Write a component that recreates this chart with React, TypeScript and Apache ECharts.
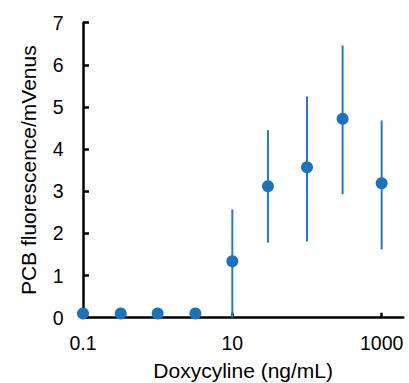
import React, { useEffect, useRef } from "react";
import * as echarts from "echarts";

const concentrations = [0.1, 0.32, 1, 3.2, 10, 30, 100, 300, 1000];
const means = [0.1, 0.1, 0.1, 0.1, 1.34, 3.12, 3.57, 4.72, 3.19];
const errLower = [null, null, null, null, 0, 1.78, 1.81, 2.93, 1.62];
const errUpper = [null, null, null, null, 2.57, 4.45, 5.25, 6.46, 4.68];
const xTickValues = [0.1, 10, 1000];

const FONT = '"Liberation Sans", Arial, sans-serif';
const BLUE = "#1b74bb";
const BAR_BLUE = "#2679c0";

export default function App() {
  const ref = useRef<HTMLDivElement>(null);
  useEffect(() => {
    if (!ref.current) return;
    const chart = echarts.init(ref.current, undefined, { renderer: "svg" });
    const points = concentrations.map((c, i) => [c, means[i]]);
    const bars = concentrations
      .map((c, i) => [c, errLower[i], errUpper[i]])
      .filter((d) => d[1] != null && d[2] != null);
    chart.setOption({
      animation: false,
      grid: {
        left: 83,
        right: 5.7,
        top: 22.7,
        bottom: 65.3,
        containLabel: false,
        outerBoundsMode: "none",
      },
      xAxis: {
        type: "log",
        logBase: 10,
        min: 0.1,
        max: 1950,
        name: "Doxycyline (ng/mL)",
        nameLocation: "middle",
        nameGap: 42,
        nameTextStyle: { fontFamily: FONT, fontSize: 21, color: "#000" },
        axisLine: { show: true, lineStyle: { color: "#000", width: 2.5 } },
        axisTick: {
          show: true,
          inside: true,
          length: 5,
          customValues: xTickValues,
          lineStyle: { color: "#000", width: 2.5 },
        },
        axisLabel: {
          customValues: xTickValues,
          margin: 15.5,
          fontFamily: FONT,
          fontSize: 19.5,
          color: "#000",
          formatter: (v: number) => (v >= 1 ? String(Math.round(v)) : String(+v.toPrecision(2))),
        },
        splitLine: { show: false },
        minorTick: { show: false },
      },
      yAxis: {
        type: "value",
        min: 0,
        max: 7,
        interval: 1,
        name: "PCB fluorescence/mVenus",
        nameLocation: "middle",
        nameGap: 44,
        nameTextStyle: { fontFamily: FONT, fontSize: 21, color: "#000" },
        axisLine: { show: true, lineStyle: { color: "#000", width: 2.5 } },
        axisTick: { show: true, inside: true, length: 6, lineStyle: { color: "#000", width: 2.5 } },
        axisLabel: { margin: 19.5, fontFamily: FONT, fontSize: 19.5, color: "#000" },
        splitLine: { show: false },
      },
      series: [
        {
          type: "custom",
          data: bars,
          clip: false,
          z: 2,
          renderItem: (params: any, api: any) => {
            const x = api.value(0);
            const p1 = api.coord([x, api.value(1)]);
            const p2 = api.coord([x, api.value(2)]);
            return {
              type: "line",
              shape: { x1: p1[0], y1: p1[1], x2: p2[0], y2: p2[1] },
              style: { stroke: BAR_BLUE, lineWidth: 2 },
            };
          },
        },
        {
          type: "scatter",
          data: points,
          symbol: "circle",
          symbolSize: 12,
          clip: false,
          z: 3,
          itemStyle: { color: BLUE, opacity: 1 },
        },
      ],
    });
    return () => chart.dispose();
  }, []);
  return (
    <div
      ref={ref}
      style={{ position: "fixed", left: 0, top: 0, width: 409, height: 383, background: "#fff" }}
    />
  );
}
